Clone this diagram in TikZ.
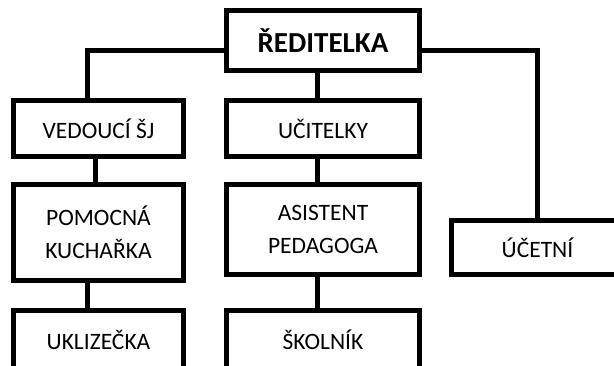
\documentclass[tikz,border=0pt]{standalone}
\usepackage{fontspec}
\setmainfont{Carlito}
\begin{document}
\begin{tikzpicture}[x=1pt,y=-1pt,
  box/.style={draw=black, line width=5pt, rectangle, inner sep=0pt, align=center,
    font=\fontsize{23.5}{32.5}\selectfont},
  conn/.style={draw=black, line width=5pt}]
\useasboundingbox (0,0) rectangle (614,366);
\clip (0,0) rectangle (614,366);
\fill[white] (0,0) rectangle (614,366);
\node[box, minimum width=193pt, minimum height=60pt, font=\fontsize{29}{34}\selectfont\bfseries] (R) at (323,40.5) {ŘEDITELKA};
\node[box, minimum width=170pt, minimum height=56pt] (V) at (98.5,128.5) {VEDOUCÍ ŠJ};
\node[box, minimum width=193pt, minimum height=56pt] (U) at (323,128.5) {UČITELKY};
\node[box, minimum width=170pt, minimum height=96pt] (P) at (98.5,232.5) {POMOCNÁ\\KUCHAŘKA};
\node[box, minimum width=193pt, minimum height=90pt] (A) at (323,229.5) {ASISTENT\\PEDAGOGA};
\node[box, minimum width=172pt, minimum height=54pt] (C) at (537.5,247.5) {ÚČETNÍ};
\node[box, minimum width=170pt, minimum height=58pt] (K) at (98.5,339.5) {UKLIZEČKA};
\node[box, minimum width=193pt, minimum height=58pt] (S) at (323,339.5) {ŠKOLNÍK};
\draw[conn] ([yshift=-10pt]R.west) -| ([xshift=-11pt]V.north);
\draw[conn] ([yshift=-10pt]R.east) -| (C.north);
\draw[conn] ([xshift=-5.5pt]R.south) -- ([xshift=-5.5pt]U.north);
\draw[conn] ([xshift=-5.5pt]U.south) -- ([xshift=-5.5pt]A.north);
\draw[conn] ([xshift=-5.5pt]A.south) -- ([xshift=-5.5pt]S.north);
\draw[conn] ([xshift=-3.5pt]V.south) -- ([xshift=-3.5pt]P.north);
\draw[conn] ([xshift=-11pt]P.south) -- ([xshift=-11pt]K.north);
\end{tikzpicture}
\end{document}
